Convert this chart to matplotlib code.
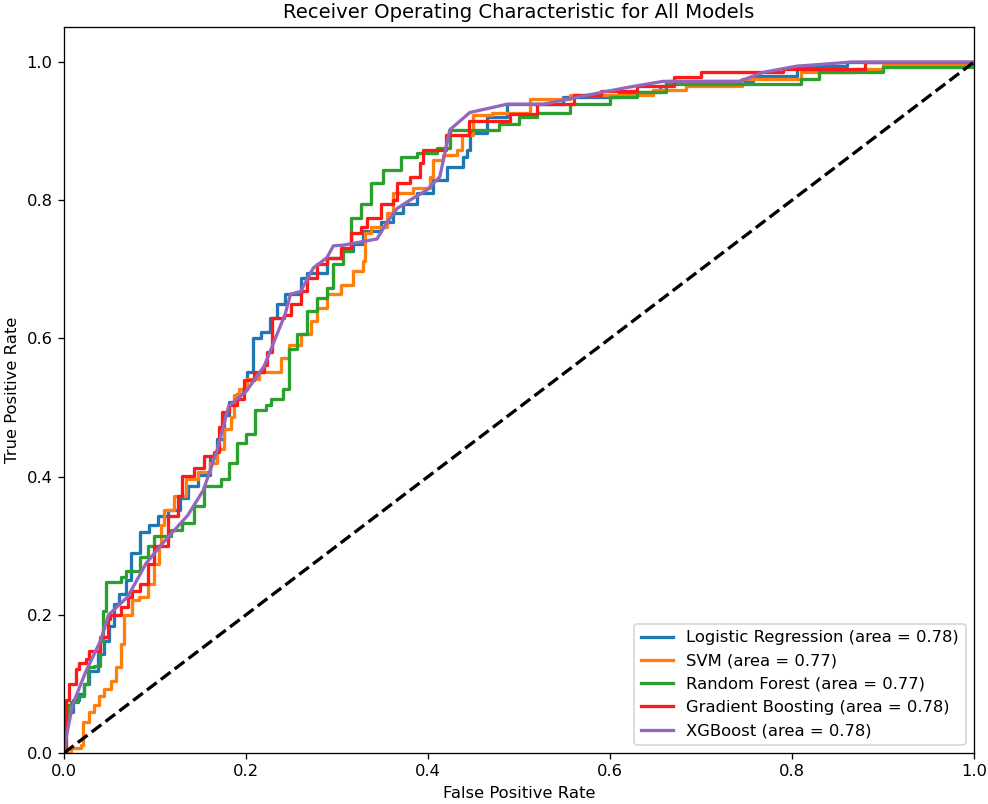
import matplotlib
matplotlib.use("Agg")
import matplotlib.pyplot as plt

# ROC points (fpr, tpr)
lr_pts = [(0, 0), (0, 0.06), (0.01, 0.077), (0.017, 0.085), (0.022, 0.10), (0.028, 0.118),
          (0.037, 0.143), (0.044, 0.162), (0.05, 0.184), (0.055, 0.216), (0.06, 0.23),
          (0.068, 0.25), (0.074, 0.29), (0.084, 0.32), (0.093, 0.33), (0.103, 0.343),
          (0.114, 0.352), (0.128, 0.369), (0.136, 0.387), (0.147, 0.403), (0.161, 0.43),
          (0.168, 0.454), (0.176, 0.489), (0.181, 0.508), (0.19, 0.52), (0.197, 0.527),
          (0.201, 0.552), (0.208, 0.60), (0.216, 0.61), (0.226, 0.63), (0.234, 0.65),
          (0.243, 0.664), (0.26, 0.688), (0.267, 0.695), (0.289, 0.717), (0.304, 0.727),
          (0.318, 0.737), (0.329, 0.756), (0.348, 0.768), (0.362, 0.781), (0.373, 0.795),
          (0.388, 0.81), (0.406, 0.829), (0.421, 0.848), (0.439, 0.863), (0.443, 0.873),
          (0.446, 0.898), (0.465, 0.921), (0.487, 0.939), (0.548, 0.949), (0.61, 0.956),
          (0.655, 0.965), (0.662, 0.972), (0.757, 0.98), (0.805, 0.994), (0.86, 1.0), (1.0, 1.0)]

svm_pts = [(0, 0), (0.008, 0.007), (0.019, 0.012), (0.021, 0.045), (0.028, 0.06), (0.033, 0.07),
           (0.039, 0.082), (0.044, 0.092), (0.052, 0.104), (0.057, 0.124), (0.063, 0.158),
           (0.066, 0.20), (0.075, 0.221), (0.082, 0.226), (0.092, 0.245), (0.099, 0.274),
           (0.104, 0.30), (0.107, 0.33), (0.11, 0.352), (0.121, 0.372), (0.134, 0.396),
           (0.147, 0.406), (0.161, 0.42), (0.168, 0.44), (0.176, 0.469), (0.183, 0.486),
           (0.187, 0.518), (0.192, 0.527), (0.201, 0.542), (0.214, 0.552), (0.238, 0.571),
           (0.247, 0.591), (0.26, 0.607), (0.271, 0.625), (0.278, 0.644), (0.289, 0.664),
           (0.304, 0.678), (0.318, 0.698), (0.329, 0.712), (0.331, 0.752), (0.337, 0.761),
           (0.355, 0.781), (0.362, 0.81), (0.384, 0.817), (0.402, 0.834), (0.406, 0.858),
           (0.417, 0.866), (0.432, 0.873), (0.437, 0.895), (0.45, 0.924), (0.47, 0.926),
           (0.512, 0.946), (0.556, 0.953), (0.647, 0.96), (0.684, 0.966), (0.745, 0.975),
           (0.81, 0.985), (0.87, 0.99), (0.9, 0.996), (1.0, 1.0)]

rf_pts = [(0, 0), (0, 0.05), (0.004, 0.07), (0.008, 0.074), (0.015, 0.082), (0.022, 0.10),
          (0.026, 0.124), (0.033, 0.126), (0.04, 0.162), (0.043, 0.206), (0.046, 0.248),
          (0.063, 0.255), (0.068, 0.264), (0.084, 0.284), (0.092, 0.30), (0.099, 0.314),
          (0.118, 0.323), (0.13, 0.333), (0.143, 0.357), (0.154, 0.387), (0.172, 0.396),
          (0.181, 0.42), (0.19, 0.449), (0.2, 0.461), (0.21, 0.496), (0.222, 0.503),
          (0.227, 0.513), (0.241, 0.527), (0.247, 0.585), (0.256, 0.607), (0.267, 0.639),
          (0.278, 0.658), (0.289, 0.673), (0.296, 0.708), (0.307, 0.727), (0.315, 0.775),
          (0.326, 0.795), (0.337, 0.825), (0.351, 0.844), (0.37, 0.863), (0.388, 0.868),
          (0.41, 0.876), (0.424, 0.902), (0.478, 0.91), (0.5, 0.921), (0.52, 0.926),
          (0.556, 0.94), (0.6, 0.95), (0.63, 0.956), (0.662, 0.968), (0.81, 0.976),
          (0.83, 0.986), (0.9, 0.993), (1.0, 1.0)]

gb_pts = [(0, 0), (0.002, 0.077), (0.006, 0.10), (0.013, 0.121), (0.017, 0.13), (0.024, 0.136),
          (0.028, 0.148), (0.04, 0.168), (0.048, 0.194), (0.051, 0.2), (0.063, 0.211),
          (0.07, 0.226), (0.075, 0.235), (0.084, 0.245), (0.092, 0.274), (0.099, 0.30),
          (0.114, 0.343), (0.125, 0.372), (0.13, 0.401), (0.143, 0.413), (0.154, 0.43),
          (0.165, 0.435), (0.17, 0.472), (0.174, 0.493), (0.181, 0.503), (0.19, 0.513),
          (0.198, 0.54), (0.209, 0.552), (0.22, 0.562), (0.223, 0.581), (0.229, 0.63),
          (0.242, 0.634), (0.249, 0.65), (0.26, 0.668), (0.267, 0.688), (0.278, 0.708),
          (0.289, 0.717), (0.304, 0.731), (0.315, 0.752), (0.326, 0.761), (0.333, 0.775),
          (0.348, 0.795), (0.362, 0.80), (0.366, 0.825), (0.38, 0.834), (0.391, 0.854),
          (0.395, 0.873), (0.42, 0.895), (0.445, 0.915), (0.49, 0.925), (0.52, 0.94),
          (0.56, 0.953), (0.59, 0.958), (0.63, 0.965), (0.67, 0.978), (0.7, 0.985),
          (0.79, 0.99), (0.88, 1.0), (1.0, 1.0)]

xgb_pts = [(0, 0), (0.002, 0.02), (0.0095, 0.07), (0.024, 0.118), (0.04, 0.162), (0.049, 0.2),
           (0.07, 0.226), (0.09, 0.274), (0.106, 0.30), (0.136, 0.344), (0.153, 0.38),
           (0.168, 0.437), (0.181, 0.502), (0.2, 0.523), (0.22, 0.56), (0.243, 0.635),
           (0.249, 0.664), (0.26, 0.668), (0.274, 0.702), (0.289, 0.717), (0.296, 0.734),
           (0.307, 0.735), (0.344, 0.744), (0.355, 0.768), (0.366, 0.788), (0.38, 0.80),
           (0.399, 0.815), (0.413, 0.834), (0.424, 0.902), (0.446, 0.927), (0.487, 0.939),
           (0.527, 0.939), (0.567, 0.95), (0.618, 0.963), (0.658, 0.972), (0.742, 0.972),
           (0.768, 0.985), (0.805, 0.994), (0.866, 1.0), (1.0, 1.0)]

model_names = ["Logistic Regression", "SVM", "Random Forest", "Gradient Boosting", "XGBoost"]
model_auc = [0.78, 0.77, 0.77, 0.78, 0.78]
model_pts = [lr_pts, svm_pts, rf_pts, gb_pts, xgb_pts]
colors = ["#1f77b4", "#ff7f0e", "#2ca02c", "#ff1a1a", "#9467bd"]
stepped = [True, True, True, True, False]

# the reference looks like a default figure rendered at ~118 dpi
DPI = 118
fig = plt.figure(figsize=(989 / DPI, 804 / DPI), dpi=DPI)
ax = fig.add_axes([0.0647, 0.0634, 0.9201, 0.9024])

for name, auc, pts, c, st in zip(model_names, model_auc, model_pts, colors, stepped):
    fpr = [p[0] for p in pts]
    tpr = [p[1] for p in pts]
    ax.plot(fpr, tpr, color=c, lw=2, drawstyle="steps-post" if st else "default",
            label=f"{name} (area = {auc:.2f})")

ax.plot([0, 1], [0, 1], "k--", lw=2)
ax.set_xlim([0.0, 1.0])
ax.set_ylim([0.0, 1.05])
ax.set_xlabel("False Positive Rate")
ax.set_ylabel("True Positive Rate")
ax.set_title("Receiver Operating Characteristic for All Models")
ax.legend(loc="lower right")

fig.savefig("out.png", dpi=DPI)
